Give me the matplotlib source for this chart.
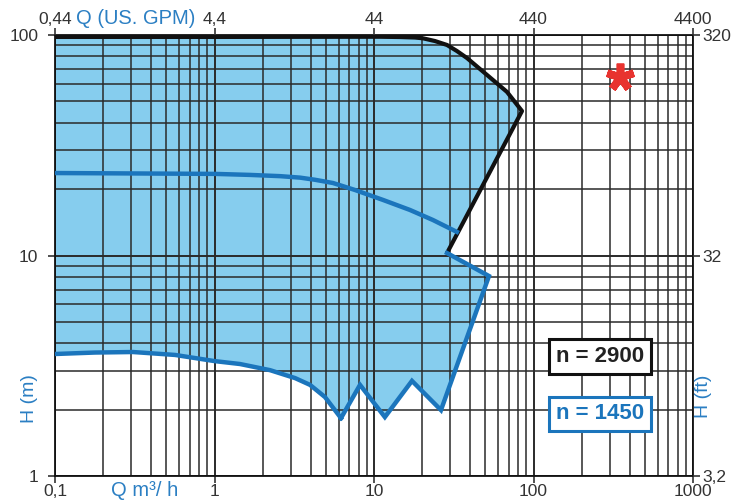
import matplotlib
matplotlib.use("Agg")
import matplotlib.pyplot as plt
from matplotlib.ticker import NullLocator, FixedLocator

plt.rcParams['font.family'] = ['Liberation Sans', 'DejaVu Sans']

# ---- data ----
# outer envelope, n = 2900 (max impeller): top curve and right edge
q_2900_max = [0.1, 1, 10.9, 14.6, 18.1, 20.3, 24.1, 28.7, 33.1, 38.3, 51.1, 68.2, 84.7, 28.7]
h_2900_max = [98, 98, 98.2, 97.9, 97.4, 96.6, 93.9, 90.1, 84.6, 78.6, 65.9, 55.2, 45.2, 10.26]
# n = 2900 min impeller curve
q_2900_min = [0.1, 1, 1.67, 2.58, 3.44, 4.27, 5.53, 7.60, 11.4, 16.8, 23.4, 33.1]
h_2900_min = [23.66, 23.45, 23.2, 22.9, 22.55, 22.05, 21.32, 19.82, 17.86, 16.09, 14.49, 12.79]
# n = 1450 envelope: right part + zigzag bottom
q_1450_edge = [28.7, 52.6, 26.3, 17.3, 11.7, 8.17, 6.21]
h_1450_edge = [10.26, 8.07, 1.99, 2.70, 1.85, 2.59, 1.83]
# n = 1450 min impeller curve (lower boundary)
q_1450_min = [6.21, 4.93, 3.97, 3.20, 2.23, 1.445, 1.0, 0.566, 0.308, 0.178, 0.1]
h_1450_min = [1.83, 2.28, 2.59, 2.78, 3.02, 3.22, 3.32, 3.54, 3.65, 3.63, 3.575]

star_q = [348]
star_h = [64.6]

x_ticks = [0.1, 1, 10, 100, 1000]
x_labels = ['0,1', '1', '10', '100', '1000']
gpm_labels = ['0,44', '4,4', '44', '440', '4400']
y_ticks = [1, 10, 100]
y_labels = ['1', '10', '100']
ft_labels = ['3,2', '32', '320']

legend_labels = ['n = 2900', 'n = 1450']

# ---- colours ----
fill_c = '#86cdee'
blue = '#1b75bc'
label_blue = '#2b7fc3'
grid_c = '#2a2a2a'
txt_c = '#333333'

fig = plt.figure(figsize=(7.37, 5.04), dpi=100)
ax = fig.add_axes([55/737, 1-476/504, 638/737, 441/504])
ax.set_xscale('log')
ax.set_yscale('log')
ax.set_xlim(0.1, 1000)
ax.set_ylim(1, 100)

# filled operating area
poly_q = q_2900_max + q_1450_edge[1:] + q_1450_min[1:]
poly_h = h_2900_max + h_1450_edge[1:] + h_1450_min[1:]
ax.fill(poly_q, poly_h, color=fill_c, zorder=1, lw=0)

# grid
ax.grid(True, which='minor', color=grid_c, lw=1.1, zorder=2)
ax.grid(True, which='major', color=grid_c, lw=1.4, zorder=2)
ax.set_axisbelow(False)
for gl in ax.get_xgridlines() + ax.get_ygridlines():
    gl.set_zorder(2)

# curves
ax.plot(q_2900_max, h_2900_max, color='#111111', lw=3.0, zorder=5,
        solid_joinstyle='round', solid_capstyle='butt')
ax.plot(q_2900_min, h_2900_min, color=blue, lw=3.2, zorder=5,
        solid_joinstyle='round')
ax.plot(q_1450_edge, h_1450_edge, color=blue, lw=3.2, zorder=5,
        solid_joinstyle='miter')
ax.plot(q_1450_min, h_1450_min, color=blue, lw=3.2, zorder=5,
        solid_joinstyle='round')

# red asterisk
ax.plot(star_q, star_h, linestyle='none', marker=(5, 2, 0), ms=20, mew=5.5,
        color='#e8332f', zorder=6)

# ticks
ax.xaxis.set_major_locator(FixedLocator(x_ticks))
ax.set_xticklabels(x_labels)
ax.yaxis.set_major_locator(FixedLocator(y_ticks))
ax.set_yticklabels(y_labels)
ax.tick_params(which='major', direction='out', length=5, width=1.2,
               labelsize=12.5, colors=txt_c)
ax.tick_params(axis='x', pad=1)
ax.tick_params(axis='y', pad=7)
ax.tick_params(which='minor', length=0)
for s in ax.spines.values():
    s.set_color('#111111')
    s.set_linewidth(1.3)
    s.set_zorder(4)

axt = ax.twiny()
axt.set_xscale('log')
axt.set_xlim(0.1, 1000)
axt.xaxis.set_major_locator(FixedLocator(x_ticks))
axt.xaxis.set_minor_locator(NullLocator())
axt.set_xticklabels(gpm_labels)
axt.tick_params(which='major', direction='out', length=5, width=1.2,
                labelsize=12.5, colors=txt_c, pad=1)

axr = ax.twinx()
axr.set_yscale('log')
axr.set_ylim(1, 100)
axr.yaxis.set_major_locator(FixedLocator(y_ticks))
axr.yaxis.set_minor_locator(NullLocator())
axr.set_yticklabels(ft_labels)
axr.tick_params(which='major', direction='out', length=5, width=1.2,
                labelsize=12.5, colors=txt_c, pad=2)
for a in (axt, axr):
    for s in a.spines.values():
        s.set_visible(False)

# legend boxes
ax.text(0.854, 0.271, legend_labels[0], transform=ax.transAxes, ha='center',
        va='center', fontsize=16, fontweight='bold', color='#222222', zorder=8,
        bbox=dict(boxstyle='square,pad=0.3', fc='white', ec='#111111', lw=2.2))
ax.text(0.854, 0.1406, legend_labels[1], transform=ax.transAxes, ha='center',
        va='center', fontsize=16, fontweight='bold', color=blue, zorder=8,
        bbox=dict(boxstyle='square,pad=0.3', fc='white', ec=blue, lw=2.2))

# axis titles
fig.text(136/737, 1-18/504, 'Q (US. GPM)', color=label_blue, fontsize=14.5,
         ha='center', va='center')
fig.text(145/737, 1-491/504, 'Q m³/ h', color=label_blue, fontsize=14.5,
         ha='center', va='center')
fig.text(30/737, 1-399/504, 'H (m)', color=label_blue, fontsize=14,
         ha='center', va='center', rotation=90)
fig.text(704/737, 1-396/504, 'H (ft)', color=label_blue, fontsize=14,
         ha='center', va='center', rotation=90)

fig.savefig('out.png', dpi=100)
